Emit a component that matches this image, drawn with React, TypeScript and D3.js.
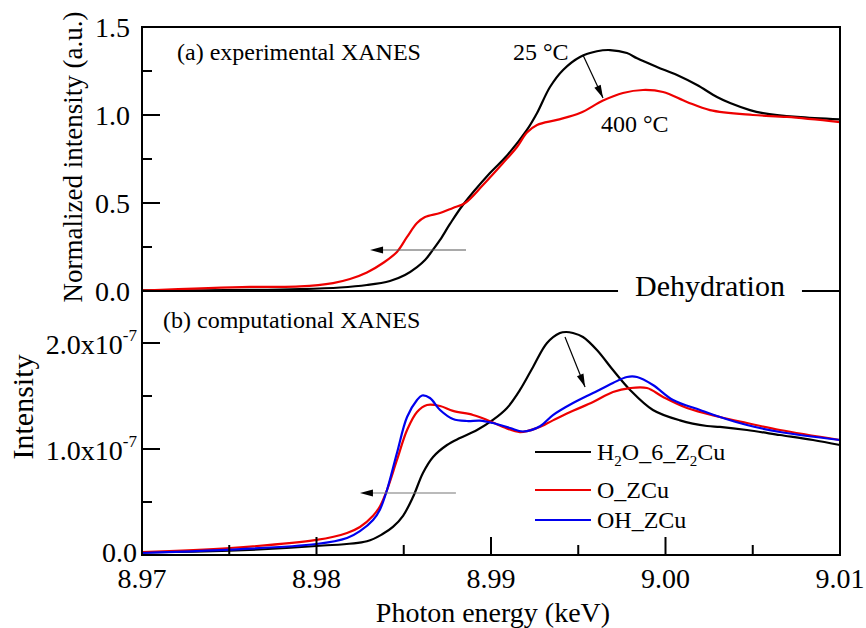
import React from "react";
import * as d3 from "d3";

// ---------- axis ticks ----------
const energyMajor = [8.97, 8.98, 8.99, 9.0, 9.01];
const energyLabels = ["8.97", "8.98", "8.99", "9.00", "9.01"];
const energyMinor = [8.975, 8.985, 8.995, 9.005];
const expMajor = [0, 0.5, 1.0, 1.5];
const expLabels = ["0.0", "0.5", "1.0", "1.5"];
const expMinor = [0.25, 0.75, 1.25];
const compMajor = [0, 1e-7, 2e-7];
const compLabelMant = ["0.0", "1.0x10", "2.0x10"];
const compMinor = [0.5e-7, 1.5e-7];
const compUnit = 1e-7;

// ---------- (a) experimental XANES: [energy keV, normalized intensity] ----------
const exp25C: [number, number][] = [
  [8.97, 0.003], [8.97619, 0.006], [8.97905, 0.011], [8.98135, 0.02], [8.98289, 0.034],
  [8.98421, 0.057], [8.98507, 0.091], [8.98576, 0.136], [8.98622, 0.176], [8.98662, 0.227],
  [8.98708, 0.29], [8.98765, 0.381], [8.9884, 0.49], [8.98994, 0.67], [8.99092, 0.77],
  [8.99206, 0.915], [8.99264, 1.011], [8.99338, 1.159], [8.99413, 1.256], [8.9951, 1.33],
  [8.99607, 1.362], [8.99682, 1.369], [8.99779, 1.352], [8.99837, 1.322], [8.99951, 1.273],
  [9.00066, 1.227], [9.00181, 1.17], [9.00295, 1.102], [9.0037, 1.068], [9.00484, 1.028],
  [9.00559, 1.011], [9.00754, 0.989], [9.01, 0.975],
];
const exp400C: [number, number][] = [
  [8.97, 0.002], [8.97619, 0.023], [8.97905, 0.026], [8.98095, 0.045], [8.98192, 0.068],
  [8.98289, 0.105], [8.98381, 0.159], [8.98461, 0.222], [8.98519, 0.307],
  [8.98576, 0.386], [8.98622, 0.42], [8.98708, 0.443], [8.98782, 0.472], [8.98852, 0.5],
  [8.98954, 0.602], [8.99069, 0.727], [8.99149, 0.818], [8.99206, 0.9], [8.99264, 0.943],
  [8.99378, 0.972], [8.9951, 1.011], [8.99642, 1.082], [8.99756, 1.125], [8.99871, 1.142],
  [8.99986, 1.131], [9.00123, 1.074], [9.00255, 1.028], [9.00501, 1.0], [9.00696, 0.989],
  [9.01, 0.96],
];

// ---------- (b) computational XANES: [energy keV, intensity in 1e-7] ----------
const h2o6Z2Cu: [number, number][] = [
  [8.97, 0.025], [8.975, 0.04], [8.98, 0.085], [8.98289, 0.13], [8.98381, 0.2],
  [8.98438, 0.265], [8.98496, 0.37], [8.98553, 0.547], [8.9861, 0.774], [8.98668, 0.925],
  [8.98748, 1.038], [8.98822, 1.104], [8.9892, 1.179], [8.99011, 1.274], [8.99092, 1.387],
  [8.99166, 1.557], [8.99241, 1.774], [8.99321, 2.0], [8.99395, 2.094], [8.9943, 2.104],
  [8.9947, 2.094], [8.99527, 2.057], [8.99607, 1.934], [8.99699, 1.745], [8.99797, 1.557],
  [8.99928, 1.368], [9.00083, 1.27], [9.00238, 1.217], [9.00312, 1.208], [9.00467, 1.179],
  [9.00656, 1.132], [9.00845, 1.085], [9.01, 1.038],
];
const oZCu: [number, number][] = [
  [8.97, 0.028], [8.97504, 0.066], [8.98, 0.142], [8.98175, 0.208], [8.98249, 0.264],
  [8.98324, 0.37], [8.98364, 0.46], [8.98404, 0.613], [8.98461, 0.896], [8.98519, 1.179],
  [8.98576, 1.349], [8.98633, 1.415], [8.98708, 1.406], [8.98782, 1.36], [8.98897, 1.321],
  [8.98977, 1.274], [8.99069, 1.208], [8.99166, 1.16], [8.99264, 1.198], [8.99355, 1.27],
  [8.9947, 1.36], [8.99585, 1.443], [8.99699, 1.538], [8.99797, 1.575], [8.99894, 1.575],
  [8.99986, 1.491], [9.00123, 1.387], [9.00312, 1.302], [9.00467, 1.245], [9.00656, 1.179],
  [9.01, 1.085],
];
const ohZCu: [number, number][] = [
  [8.97, 0.019], [8.98, 0.104], [8.98175, 0.16], [8.98249, 0.225], [8.98324, 0.33],
  [8.98364, 0.43], [8.98404, 0.613], [8.98461, 0.962], [8.98519, 1.302],
  [8.98576, 1.462], [8.98605, 1.505], [8.9865, 1.481], [8.98708, 1.368], [8.98782, 1.283],
  [8.98862, 1.264], [8.98937, 1.268], [8.99011, 1.245], [8.99109, 1.198], [8.99183, 1.165],
  [8.99281, 1.215], [8.99355, 1.32], [8.9947, 1.434], [8.99585, 1.528], [8.99699, 1.623],
  [8.99779, 1.679], [8.99837, 1.679], [8.99928, 1.604], [9.00043, 1.462], [9.00198, 1.368],
  [9.00312, 1.302], [9.00467, 1.226], [9.00656, 1.16], [9.01, 1.085],
];

const legendNames = ["H2O_6_Z2Cu", "O_ZCu", "OH_ZCu"];
const colors = { black: "#000000", red: "#ee0000", blue: "#0000ee" };
const FONT = "'Liberation Serif', 'Times New Roman', Times, serif";

export default function App() {
  const W = 866, H = 628;
  const left = 142, right = 840, top = 27, mid = 291, bottom = 555;
  const x = d3.scaleLinear().domain([8.97, 9.01]).range([left, right]);
  const yA = d3.scaleLinear().domain([0, 1.5]).range([mid, top]);
  const yB = d3.scaleLinear().domain([0, 2.5e-7]).range([bottom, mid - 1]);

  const curve = d3.curveCatmullRom.alpha(0.5);
  const lineA = d3.line<[number, number]>().x(d => x(d[0])).y(d => yA(d[1])).curve(curve);
  const lineB = d3.line<[number, number]>().x(d => x(d[0])).y(d => yB(d[1] * compUnit)).curve(curve);

  const major = 18, minor = 10;
  const tickStyle = { stroke: "#000", strokeWidth: 2 };

  // annotation anchors in data coordinates
  const arrowA = { x1: 8.98857, x2: 8.98307, y: 0.233 };
  const diagA = { x1: 8.99527, y1: 1.341, x2: 8.99642, y2: 1.097 };
  const arrowB = { x1: 8.98799, x2: 8.98249, y: 0.585e-7 };
  const diagB = { x1: 8.99424, y1: 2.057e-7, x2: 8.99539, y2: 1.585e-7 };
  const dehydGap = [8.99728, 9.00782];

  const head = (tx: number, ty: number, fx: number, fy: number, len = 13, w = 3.5) => {
    const a = Math.atan2(ty - fy, tx - fx);
    const bx = tx - len * Math.cos(a), by = ty - len * Math.sin(a);
    const px = -Math.sin(a) * w, py = Math.cos(a) * w;
    return `M${tx},${ty}L${bx + px},${by + py}L${bx - px},${by - py}Z`;
  };

  const legendY = [452, 490, 520];
  const legendColors = [colors.black, colors.red, colors.blue];

  return (
    <svg width={W} height={H} style={{ position: "absolute", left: 0, top: 0, background: "#fff" }} fontFamily={FONT}>
      <rect x={0} y={0} width={W} height={H} fill="#fff" />
      {/* curves panel a */}
      <path d={lineA(exp25C) || ""} fill="none" stroke={colors.black} strokeWidth={2.2} />
      <path d={lineA(exp400C) || ""} fill="none" stroke={colors.red} strokeWidth={2.2} />
      {/* curves panel b */}
      <path d={lineB(h2o6Z2Cu) || ""} fill="none" stroke={colors.black} strokeWidth={2.2} />
      <path d={lineB(oZCu) || ""} fill="none" stroke={colors.red} strokeWidth={2.2} />
      <path d={lineB(ohZCu) || ""} fill="none" stroke={colors.blue} strokeWidth={2.2} />

      {/* frame */}
      <line x1={left} x2={right} y1={top} y2={top} {...tickStyle} />
      <line x1={left} x2={right} y1={bottom} y2={bottom} {...tickStyle} />
      <line x1={left} x2={left} y1={top - 1} y2={bottom + 1} {...tickStyle} />
      <line x1={right} x2={right} y1={top - 1} y2={bottom + 1} {...tickStyle} />
      <line x1={left} x2={x(dehydGap[0])} y1={mid} y2={mid} {...tickStyle} />
      <line x1={x(dehydGap[1])} x2={right} y1={mid} y2={mid} {...tickStyle} />
      <text x={(x(dehydGap[0]) + x(dehydGap[1])) / 2} y={mid + 5} fontSize={30} textAnchor="middle">Dehydration</text>

      {/* y ticks panel a */}
      {expMajor.map((v, i) => (
        <g key={"am" + i}>
          <line x1={left} x2={left + major} y1={yA(v)} y2={yA(v)} {...tickStyle} />
          <text x={left - 12} y={yA(v) + 10} fontSize={28} textAnchor="end">{expLabels[i]}</text>
        </g>
      ))}
      {expMinor.map((v, i) => (
        <line key={"an" + i} x1={left} x2={left + minor} y1={yA(v)} y2={yA(v)} {...tickStyle} />
      ))}
      {/* y ticks panel b */}
      {compMajor.map((v, i) => (
        <g key={"bm" + i}>
          <line x1={left} x2={left + major} y1={yB(v)} y2={yB(v)} {...tickStyle} />
          <text x={left - 5} y={yB(v) + (i === 0 ? 7 : 11)} fontSize={28} textAnchor="end">
            {compLabelMant[i]}
            {i > 0 && <tspan dy={-13} fontSize={17}>-7</tspan>}
          </text>
        </g>
      ))}
      {compMinor.map((v, i) => (
        <line key={"bn" + i} x1={left} x2={left + minor} y1={yB(v)} y2={yB(v)} {...tickStyle} />
      ))}
      {/* x ticks */}
      {energyMajor.map((v, i) => (
        <g key={"xm" + i}>
          <line x1={x(v)} x2={x(v)} y1={bottom} y2={bottom - major} {...tickStyle} />
          <text x={x(v)} y={588} fontSize={28} textAnchor="middle">{energyLabels[i]}</text>
        </g>
      ))}
      {energyMinor.map((v, i) => (
        <line key={"xn" + i} x1={x(v)} x2={x(v)} y1={bottom} y2={bottom - minor} {...tickStyle} />
      ))}

      {/* axis titles */}
      <text x={493} y={622} fontSize={28} textAnchor="middle">Photon energy (keV)</text>
      <text transform={`translate(82,${157}) rotate(-90)`} fontSize={27} textAnchor="middle">Normalized intensity (a.u.)</text>
      <text transform={`translate(33,${407}) rotate(-90)`} fontSize={30} textAnchor="middle">Intensity</text>

      {/* panel labels */}
      <text x={177} y={60} fontSize={24}>(a) experimental XANES</text>
      <text x={163} y={328} fontSize={24}>(b) computational XANES</text>
      <text x={513} y={60} fontSize={24}>25 °C</text>
      <text x={601} y={132} fontSize={24}>400 °C</text>

      {/* annotations */}
      <line x1={x(arrowA.x1)} x2={x(arrowA.x2) + 10} y1={yA(arrowA.y)} y2={yA(arrowA.y)} stroke="#555" strokeWidth={1.2} />
      <path d={head(x(arrowA.x2), yA(arrowA.y), x(arrowA.x1), yA(arrowA.y))} fill="#000" />
      <line x1={x(diagA.x1)} y1={yA(diagA.y1)} x2={x(diagA.x2)} y2={yA(diagA.y2)} stroke="#000" strokeWidth={1.2} />
      <path d={head(x(diagA.x2), yA(diagA.y2), x(diagA.x1), yA(diagA.y1))} fill="#000" />
      <line x1={x(arrowB.x1)} x2={x(arrowB.x2) + 10} y1={yB(arrowB.y)} y2={yB(arrowB.y)} stroke="#777" strokeWidth={1.2} />
      <path d={head(x(arrowB.x2), yB(arrowB.y), x(arrowB.x1), yB(arrowB.y))} fill="#000" />
      <line x1={x(diagB.x1)} y1={yB(diagB.y1)} x2={x(diagB.x2)} y2={yB(diagB.y2)} stroke="#000" strokeWidth={1.2} />
      <path d={head(x(diagB.x2), yB(diagB.y2), x(diagB.x1), yB(diagB.y1))} fill="#000" />

      {/* legend */}
      {legendNames.map((n, i) => (
        <g key={"lg" + i}>
          <line x1={535} x2={591} y1={legendY[i]} y2={legendY[i]} stroke={legendColors[i]} strokeWidth={2.2} />
          {i === 0 ? (
            <text x={597} y={legendY[i] + 8} fontSize={24}>
              H<tspan dy={6} fontSize={15}>2</tspan>
              <tspan dy={-6}>O_6_Z</tspan>
              <tspan dy={6} fontSize={15}>2</tspan>
              <tspan dy={-6}>Cu</tspan>
            </text>
          ) : (
            <text x={597} y={legendY[i] + 8} fontSize={24}>{n}</text>
          )}
        </g>
      ))}
    </svg>
  );
}
